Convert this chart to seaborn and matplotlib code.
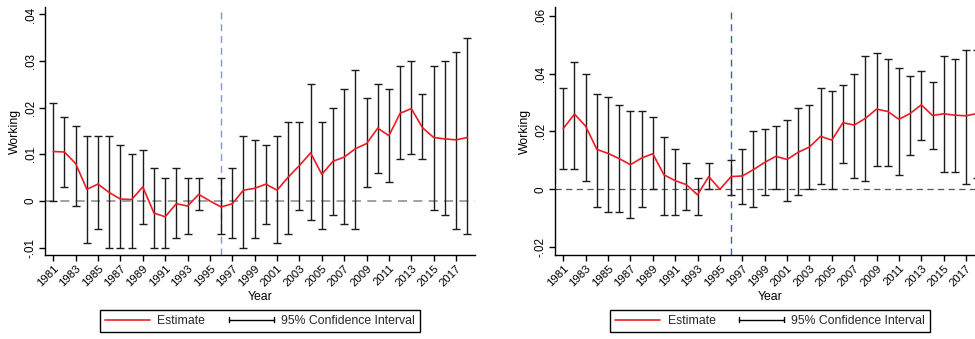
import numpy as np
import pandas as pd
import matplotlib
matplotlib.use("Agg")
import matplotlib.pyplot as plt
import seaborn as sns
from matplotlib.lines import Line2D
from matplotlib.legend_handler import HandlerBase

nan = np.nan
years = list(range(1981, 2019))

# Left panel: estimates and 95% bounds (1995 is the omitted reference year)
est_left = [0.0106, 0.0105, 0.0080, 0.0025, 0.0036, 0.0018, 0.0004, 0.0003, 0.0030, -0.0026,
            -0.0034, -0.0006, -0.0011, 0.0014, 0.0, -0.0013, -0.0006, 0.0023, 0.0027, 0.0036,
            0.0023, 0.0051, 0.0076, 0.0103, 0.0057, 0.0085, 0.0094, 0.0112, 0.0123, 0.0156,
            0.0140, 0.0188, 0.0198, 0.0157, 0.0136, 0.0133, 0.0131, 0.0136]
lo_left = [0.000, 0.003, -0.001, -0.009, -0.006, -0.010, -0.010, -0.010, -0.005, -0.010,
           -0.010, -0.008, -0.007, -0.002, nan, -0.007, -0.008, -0.010, -0.008, -0.005,
           -0.009, -0.007, -0.002, -0.004, -0.006, -0.003, -0.005, -0.006, 0.003, 0.006,
           0.004, 0.009, 0.010, 0.009, -0.002, -0.003, -0.006, -0.007]
hi_left = [0.021, 0.018, 0.016, 0.014, 0.014, 0.014, 0.012, 0.010, 0.011, 0.007,
           0.005, 0.007, 0.005, 0.005, nan, 0.005, 0.007, 0.014, 0.013, 0.012,
           0.014, 0.017, 0.017, 0.025, 0.017, 0.020, 0.024, 0.028, 0.022, 0.025,
           0.024, 0.029, 0.030, 0.023, 0.029, 0.030, 0.032, 0.035]

# Right panel
est_right = [0.0210, 0.0260, 0.0218, 0.0138, 0.0124, 0.0106, 0.0085, 0.0108, 0.0123, 0.0050,
             0.0030, 0.0016, -0.0019, 0.0044, 0.0, 0.0044, 0.0046, 0.0068, 0.0093, 0.0114,
             0.0103, 0.0128, 0.0146, 0.0183, 0.0170, 0.0230, 0.0222, 0.0245, 0.0277, 0.0269,
             0.0242, 0.0262, 0.0292, 0.0255, 0.0261, 0.0256, 0.0254, 0.0262]
lo_right = [0.007, 0.007, 0.003, -0.006, -0.008, -0.008, -0.010, -0.006, 0.000, -0.009,
            -0.009, -0.007, -0.009, 0.000, nan, -0.002, -0.005, -0.006, -0.002, 0.000,
            -0.004, -0.002, 0.000, 0.002, 0.000, 0.009, 0.004, 0.003, 0.008, 0.008,
            0.005, 0.012, 0.017, 0.014, 0.006, 0.006, 0.002, 0.004]
hi_right = [0.035, 0.044, 0.040, 0.033, 0.032, 0.029, 0.027, 0.027, 0.025, 0.018,
            0.014, 0.009, 0.004, 0.009, nan, 0.010, 0.014, 0.020, 0.021, 0.022,
            0.024, 0.028, 0.029, 0.035, 0.034, 0.036, 0.040, 0.046, 0.047, 0.045,
            0.042, 0.039, 0.041, 0.037, 0.046, 0.045, 0.048, 0.048]

left_yticks = [-0.01, 0.0, 0.01, 0.02, 0.03, 0.04]
left_yticklabels = ["-.01", "0", ".01", ".02", ".03", ".04"]
right_yticks = [-0.02, 0.0, 0.02, 0.04, 0.06]
right_yticklabels = ["-.02", "0", ".02", ".04", ".06"]
xtick_years = list(range(1981, 2018, 2))
policy_year = 1996

sns.set_theme(style="white")
plt.rcParams["font.family"] = ["Liberation Sans", "DejaVu Sans"]


class CIHandler(HandlerBase):
    """Legend key drawn as a horizontal capped interval."""
    def create_artists(self, legend, orig_handle, xdescent, ydescent,
                       width, height, fontsize, trans):
        y = -ydescent + height / 2
        x0 = -xdescent
        x1 = x0 + width
        cap = height * 0.32
        kw = dict(color="black", lw=1.0, transform=trans)
        return [Line2D([x0, x1], [y, y], **kw),
                Line2D([x0, x0], [y - cap, y + cap], **kw),
                Line2D([x1, x1], [y - cap, y + cap], **kw)]


def draw_panel(ax, est, lo, hi, yticks, yticklabels, ylim, vcol, hcol, hlw):
    df = pd.DataFrame({"Year": years, "Estimate": est, "lo": lo, "hi": hi})
    ax.axhline(0, color=hcol, lw=hlw, ls=(0, (5, 3.5)), zorder=1)
    ax.axvline(policy_year, color=vcol, lw=1.0, ls=(0, (5, 3.5)), zorder=1)
    ci = df.dropna()
    ax.errorbar(ci["Year"], ci["Estimate"],
                yerr=[ci["Estimate"] - ci["lo"], ci["hi"] - ci["Estimate"]],
                fmt="none", ecolor="#1c1c1c", elinewidth=1.0, capsize=2.6,
                capthick=1.0, zorder=2)
    sns.lineplot(data=df, x="Year", y="Estimate", color="#ec1c24", lw=1.2,
                 ax=ax, zorder=3)

    ax.set_xlim(1980.26, 2018.69)
    ax.set_ylim(*ylim)
    ax.set_xticks(xtick_years)
    ax.set_xticklabels([str(y) for y in xtick_years], rotation=45,
                       ha="right", rotation_mode="anchor", fontsize=8.2)
    ax.set_yticks(yticks)
    ax.set_yticklabels(yticklabels, rotation=90, va="center", fontsize=8.4)
    ax.tick_params(axis="both", bottom=True, left=True, direction="out",
                   length=4, width=1, color="black", pad=2, labelcolor="black")
    for s in ["top", "right"]:
        ax.spines[s].set_visible(False)
    for s in ["left", "bottom"]:
        ax.spines[s].set_color("black")
        ax.spines[s].set_linewidth(1.0)

    ax.set_xlabel("Year", fontsize=8.8, color="black")
    ax.xaxis.set_label_coords(0.5, -0.145)
    ax.set_ylabel("Working", fontsize=8.8, color="black")
    ax.yaxis.set_label_coords(-0.056, 0.5)

    handles = [Line2D([], [], color="#ec1c24", lw=1.2), object()]
    leg = ax.legend(handles, ["Estimate", "95% Confidence Interval"],
                    handler_map={object: CIHandler()},
                    loc="upper center", bbox_to_anchor=(0.5, -0.222), ncol=2,
                    fontsize=8.8, frameon=True, fancybox=False, framealpha=1,
                    edgecolor="black", borderaxespad=0, handlelength=3.7,
                    handletextpad=0.6, columnspacing=1.9, borderpad=0.4)
    leg.get_frame().set_linewidth(1.0)


fig = plt.figure(figsize=(9.75, 3.39), dpi=100)
ax_l = fig.add_axes([0.04615, 0.2478, 0.4410, 0.7316])
ax_r = fig.add_axes([0.56923, 0.2478, 0.4410, 0.7316])

draw_panel(ax_l, est_left, lo_left, hi_left, left_yticks, left_yticklabels,
           (-0.0116, 0.0416), "#8596cf", "#9a9a9a", 1.3)
draw_panel(ax_r, est_right, lo_right, hi_right, right_yticks, right_yticklabels,
           (-0.0227, 0.0630), "#3a5fcd", "#555555", 0.9)

fig.savefig("out.png", dpi=100)
